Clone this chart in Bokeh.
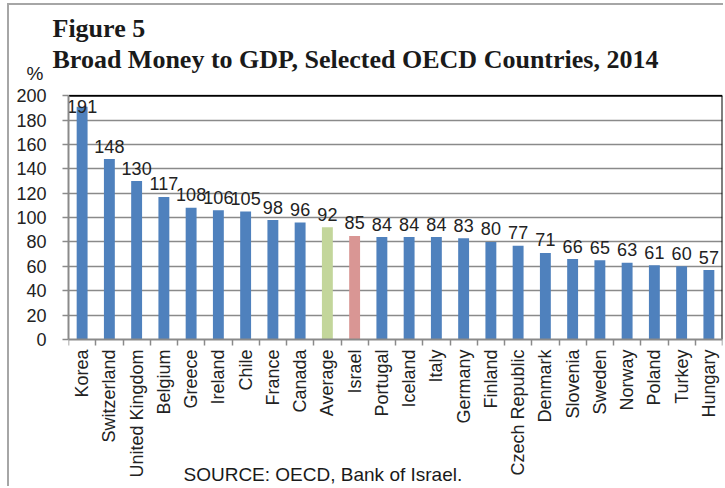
import numpy as np
from bokeh.plotting import figure
from bokeh.models import (Range1d, FixedTicker, Label, Title, Grid,
                          ColumnDataSource, LinearAxis)
from bokeh.core.properties import value
from bokeh.embed import file_html
from bokeh.resources import INLINE

categories = ["Korea", "Switzerland", "United Kingdom", "Belgium", "Greece", "Ireland",
              "Chile", "France", "Canada", "Average", "Israel", "Portugal", "Iceland",
              "Italy", "Germany", "Finland", "Czech Republic", "Denmark", "Slovenia",
              "Sweden", "Norway", "Poland", "Turkey", "Hungary"]
values = [191, 148, 130, 117, 108, 106, 105, 98, 96, 92, 85, 84, 84, 84, 83, 80, 77, 71,
          66, 65, 63, 61, 60, 57]
y_ticks = [0, 20, 40, 60, 80, 100, 120, 140, 160, 180, 200]

BLUE = "#4F81BD"
GREEN = "#C3D69B"
RED = "#D99694"
GRID = "#8a8a8a"
TXT = "#1a1a1a"
SANS = "Liberation Sans"
SERIF = "Liberation Serif"

n = len(categories)
xs = list(range(n))
bounds = [i - 0.5 for i in range(n + 1)]
colors = [GREEN if c == "Average" else RED if c == "Israel" else BLUE for c in categories]
label_off = [0 if v > 178 else -13 for v in values]

src = ColumnDataSource(dict(x=xs, top=values, color=colors,
                            txt=[str(v) for v in values], off=label_off))

# The frame reaches the bottom of the canvas so the rotated names and the
# source note live inside it; the x axes sit at y = 0.
Y_END = 201
Y_START = -122.24

p = figure(width=716, height=483, output_backend="svg", toolbar_location=None,
           x_range=Range1d(-0.5, n - 0.5), y_range=Range1d(Y_START, Y_END),
           min_border_left=59, min_border_right=3, min_border_top=89,
           min_border_bottom=0, x_axis_type=None, y_axis_type=None,
           styles={"margin-left": "7px", "margin-top": "3px",
                   "border-left": "2px solid #a6a6a6", "border-top": "2px solid #a6a6a6"})
p.outline_line_color = None
p.background_fill_color = "white"
p.border_fill_color = "white"

# y axis
yax = LinearAxis(ticker=FixedTicker(ticks=y_ticks), bounds=(y_ticks[0], y_ticks[-1]))
yax.axis_line_color = GRID
yax.axis_line_width = 2
yax.major_tick_line_color = GRID
yax.major_tick_line_width = 1.5
yax.major_tick_out = 6
yax.major_tick_in = 0
yax.minor_tick_line_color = None
yax.major_label_standoff = 16
yax.major_label_text_font = SANS
yax.major_label_text_font_size = "18px"
yax.major_label_text_color = "#222222"
p.add_layout(yax, "left")
p.add_layout(Grid(dimension=1, ticker=FixedTicker(ticks=y_ticks[1:-1]),
                  grid_line_color=GRID, grid_line_width=1.5))

# plot-area border: top and right in black
p.segment(x0=[-0.5, n - 0.5], y0=[y_ticks[-1], y_ticks[0]],
          x1=[n - 0.5, n - 0.5], y1=[y_ticks[-1], y_ticks[-1]],
          line_color="black", line_width=2)

# x axis: tick marks between categories
xtick = LinearAxis(ticker=FixedTicker(ticks=bounds), fixed_location=0)
xtick.major_label_overrides = {b: "" for b in bounds}
xtick.major_label_text_font_size = "1px"
xtick.major_label_standoff = 0
xtick.axis_line_color = GRID
xtick.axis_line_width = 2
xtick.major_tick_line_color = GRID
xtick.major_tick_line_width = 1.5
xtick.major_tick_out = 6
xtick.major_tick_in = 0
xtick.minor_tick_line_color = None
p.add_layout(xtick, "below")

# x axis: category names
xax = LinearAxis(ticker=FixedTicker(ticks=xs), fixed_location=0)
xax.major_label_overrides = {i: c for i, c in zip(xs, categories)}
xax.major_label_orientation = np.pi / 2
xax.axis_line_color = None
xax.major_tick_line_color = None
xax.minor_tick_line_color = None
xax.major_tick_out = 0
xax.major_tick_in = 0
xax.major_label_standoff = 10
xax.major_label_text_font = SANS
xax.major_label_text_font_size = "18px"
xax.major_label_text_color = "#222222"
p.add_layout(xax, "below")

p.vbar(x="x", top="top", bottom=0, width=0.4, fill_color="color", line_color=None,
       source=src)
p.text(x="x", y="top", text="txt", y_offset="off", source=src,
       text_align="center", text_baseline="alphabetic",
       text_font=value(SANS), text_font_size="18px", text_color="#222222")

# source note, inside the frame below the axis
p.text(x=[3.72], y=[-110.6], text=["SOURCE: OECD, Bank of Israel."],
       text_align="left", text_baseline="alphabetic",
       text_font=value(SANS), text_font_size="19px", text_color=TXT)

# "%" unit label: first (innermost) item of the top panel
p.add_layout(Label(x=-42, y=21, x_units="screen", y_units="screen",
                   text="%", text_font=SANS, text_font_size="19px",
                   text_baseline="alphabetic", text_color=TXT), "above")


def make_title(text, standoff):
    return Title(text=text, text_font=SERIF, text_font_size="26px",
                 text_font_style="bold", text_color=TXT, offset=-16,
                 standoff=standoff)


p.add_layout(make_title("Broad Money to GDP, Selected OECD Countries, 2014", 0), "above")
p.add_layout(make_title("Figure 5", 0), "above")

open("out.html", "w").write(file_html(p, INLINE))
